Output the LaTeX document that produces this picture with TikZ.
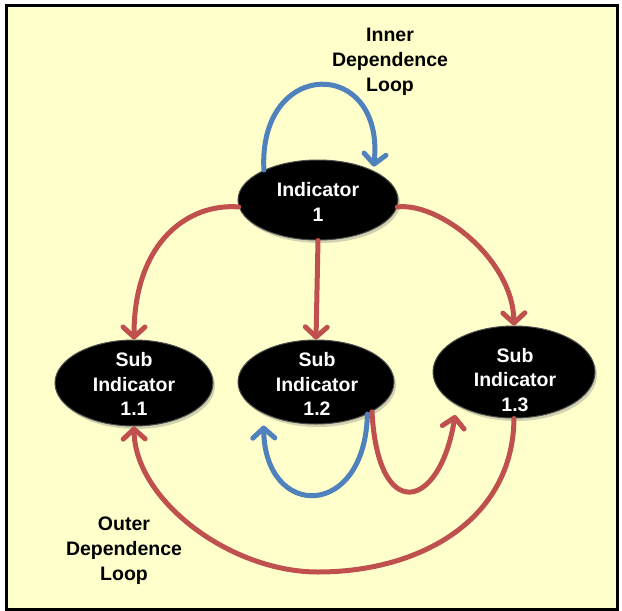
\documentclass[tikz,border=0pt]{standalone}
\usepackage{fontspec}
\setmainfont{Liberation Sans}
\usetikzlibrary{arrows.meta,shapes.geometric,shadows}
\definecolor{bgyellow}{HTML}{FFFFCC}
\definecolor{arrred}{HTML}{C0504D}
\definecolor{arrblue}{HTML}{4F81BD}
\begin{document}
\begin{tikzpicture}[x=1pt,y=-1pt,
  ell/.style={ellipse, fill=black, draw=black!70, line width=1pt, inner sep=0pt,
    drop shadow={opacity=0.35, shadow xshift=2pt, shadow yshift=-3pt}},
  eltxt/.style={text=white, font=\bfseries\fontsize{19.5}{24.5}\selectfont, align=center, inner sep=0pt},
  lbl/.style={text=black, font=\bfseries\fontsize{19.5}{25}\selectfont, align=center, inner sep=0pt},
  conn/.style={line width=5pt, line cap=round, -{Straight Barb[length=10pt,width=22pt,round]}},
  redc/.style={conn, draw=arrred},
  bluec/.style={conn, draw=arrblue}]
\useasboundingbox (0,0) rectangle (622,611);
\fill[white] (0,0) rectangle (622,611);
\draw[line width=3pt, fill=bgyellow] (6.5,5.5) rectangle (617,609);

% nodes
\node[ell, minimum width=160pt, minimum height=80pt] (ind) at (318,200) {};
\node[ell, minimum width=158pt, minimum height=86pt] (s1) at (134,383) {};
\node[ell, minimum width=156pt, minimum height=84pt] (s2) at (316,382) {};
\node[ell, minimum width=162pt, minimum height=92pt] (s3) at (514,372) {};

\node[eltxt] (tind) at (318,202) {Indicator\\1};
\node[eltxt] (ts1) at (134,384) {Sub\\Indicator\\1.1};
\node[eltxt] (ts2) at (317,384) {Sub\\Indicator\\1.2};
\node[eltxt] (ts3) at (515,380) {Sub\\Indicator\\1.3};

\node[lbl] (inner) at (390,62) {Inner\\Dependence\\Loop};
\node[lbl] (outer) at (124,551) {Outer\\Dependence\\Loop};

% connectors
\draw[bluec, shorten >=4pt] (ind.151) .. controls (258,57) and (385,57) .. (ind.28);
\draw[redc] (ind.185) .. controls (190,203) and (134,240) .. (s1.north);
\draw[redc] (ind.-5) .. controls (440,202) and (513,260) .. (s3.north);
\draw[redc] (ind.south) -- (s2.north);
\draw[bluec, shorten >=12pt] (s2.328) .. controls (365,520) and (265,520) .. (s2.211);
\draw[redc, shorten >=10pt] (s2.332) .. controls (378,525) and (440,510) .. (s3.210);
\draw[redc] (s3.south) .. controls (513,520) and (420,572) .. (318,572)
  .. controls (230,572) and (135,500) .. (s1.south);
\end{tikzpicture}
\end{document}
